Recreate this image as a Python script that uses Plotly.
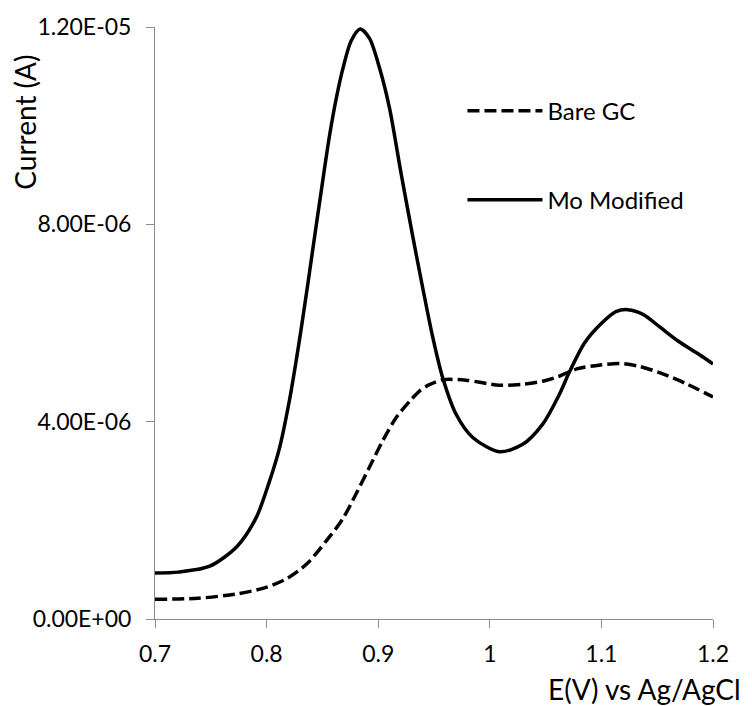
import plotly.graph_objects as go

# Mo Modified electrode (solid)
mo_x = [0.700, 0.721, 0.749, 0.7735, 0.7908, 0.8027, 0.8116, 0.8206, 0.8266, 0.8311,
        0.837, 0.843, 0.8504, 0.8564, 0.8624, 0.8683, 0.8758, 0.8839, 0.8922, 0.9012,
        0.9101, 0.9206, 0.931, 0.940, 0.9485, 0.9578, 0.9698, 0.9847, 1.0086, 1.0295,
        1.0474, 1.0623, 1.0712, 1.085, 1.099, 1.113, 1.1237, 1.1377, 1.1517, 1.169,
        1.187, 1.200]
mo_y = [0.93, 0.95, 1.07, 1.47, 2.06, 2.80, 3.47, 4.45, 5.25, 5.90,
        6.80, 7.75, 8.90, 9.80, 10.55, 11.15, 11.72, 11.96, 11.77, 11.17,
        10.36, 9.02, 7.75, 6.70, 5.75, 4.89, 4.15, 3.68, 3.39, 3.54,
        3.95, 4.55, 5.00, 5.60, 5.97, 6.23, 6.27, 6.17, 5.93, 5.63,
        5.37, 5.17]

# Bare GC electrode (dashed)
gc_x = [0.700, 0.7385, 0.7735, 0.798, 0.819, 0.8366, 0.854, 0.868, 0.880, 0.892,
        0.904, 0.916, 0.928, 0.937, 0.9459, 0.9578, 0.9788, 1.0086, 1.0295, 1.0474,
        1.062, 1.078, 1.099, 1.1167, 1.134, 1.155, 1.176, 1.200]
gc_y = [0.40, 0.42, 0.51, 0.63, 0.83, 1.13, 1.60, 2.02, 2.53, 3.07,
        3.61, 4.08, 4.41, 4.62, 4.75, 4.85, 4.84, 4.74, 4.76, 4.82,
        4.92, 5.07, 5.15, 5.18, 5.12, 4.97, 4.77, 4.50]

scale = 1e-6
x_ticks = [0.7, 0.8, 0.9, 1.0, 1.1, 1.2]
x_ticktext = ["0.7", "0.8", "0.9", "1", "1.1", "1.2"]
y_ticks = [0, 4e-6, 8e-6, 1.2e-5]
y_ticktext = ["0.00E+00", "4.00E-06", "8.00E-06", "1.20E-05"]

FONT = "Lato, 'Open Sans', sans-serif"
AXIS_COLOR = "#8c8c8c"

fig = go.Figure()
fig.add_trace(go.Scatter(
    x=gc_x, y=[v * scale for v in gc_y], mode="lines", name="Bare GC",
    line=dict(color="black", width=3.5, dash="12px,5px", shape="spline", smoothing=0.8),
    legendgroup="a"))
fig.add_trace(go.Scatter(
    x=mo_x, y=[v * scale for v in mo_y], mode="lines", name="Mo Modified",
    line=dict(color="black", width=3.5, shape="spline", smoothing=0.8),
    legendgroup="b"))

fig.update_layout(
    width=752, height=706,
    margin=dict(l=155, r=39, t=24, b=87),
    paper_bgcolor="white", plot_bgcolor="white",
    font=dict(family=FONT, size=23, color="black"),
    showlegend=True,
    legend=dict(x=0.551, y=0.896, xanchor="left", yanchor="top", itemwidth=75,
                bgcolor="rgba(0,0,0,0)", tracegroupgap=55,
                font=dict(family=FONT, size=24, color="black")),
    xaxis=dict(range=[0.7, 1.2], tickvals=x_ticks, ticktext=x_ticktext,
               showgrid=False, zeroline=False, showline=True, linecolor=AXIS_COLOR,
               linewidth=1, ticks="outside", ticklen=8, tickcolor=AXIS_COLOR,
               ticklabelstandoff=6, tickfont=dict(family=FONT, size=23)),
    yaxis=dict(range=[0, 1.2e-5], tickvals=y_ticks, ticktext=y_ticktext,
               showgrid=False, zeroline=False, showline=True, linecolor=AXIS_COLOR,
               linewidth=1, ticks="outside", ticklen=8, tickcolor=AXIS_COLOR,
               ticklabelstandoff=10, tickfont=dict(family=FONT, size=23)),
    annotations=[
        dict(text="E(V) vs Ag/AgCl", xref="paper", yref="paper", x=1.054, y=-0.119,
             xanchor="right", yanchor="middle", showarrow=False,
             font=dict(family=FONT, size=28)),
        dict(text="Current (A)", xref="paper", yref="paper", x=-0.233, y=0.84,
             xanchor="center", yanchor="middle", textangle=-90, showarrow=False,
             font=dict(family=FONT, size=28)),
    ],
)

fig.write_html("out.html", config={"displayModeBar": False},
               post_script="document.body.style.margin='0';")
